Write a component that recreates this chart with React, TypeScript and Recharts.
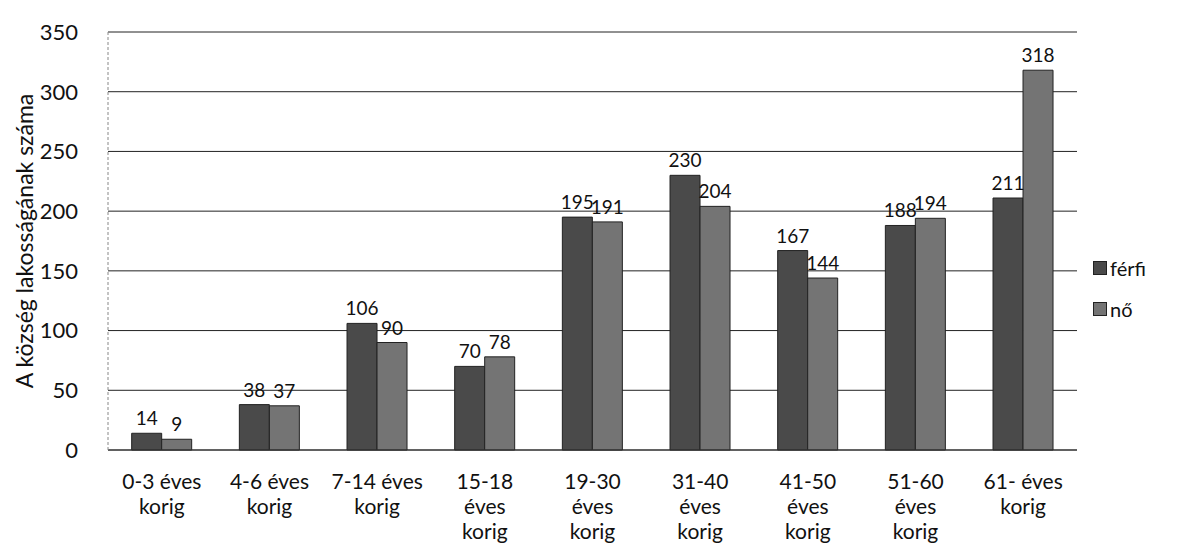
import React from "react";
import { BarChart, Bar, XAxis, YAxis, CartesianGrid, LabelList } from "recharts";

const categories = [
  "0-3 éves\nkorig",
  "4-6 éves\nkorig",
  "7-14 éves\nkorig",
  "15-18\néves\nkorig",
  "19-30\néves\nkorig",
  "31-40\néves\nkorig",
  "41-50\néves\nkorig",
  "51-60\néves\nkorig",
  "61- éves\nkorig",
];
const ferfi = [14, 38, 106, 70, 195, 230, 167, 188, 211];
const no = [9, 37, 90, 78, 191, 204, 144, 194, 318];
const yTicks = [0, 50, 100, 150, 200, 250, 300, 350];

const data = categories.map((c, i) => ({ cat: c, ferfi: ferfi[i], no: no[i] }));

const FONT = "Lato, 'Liberation Sans', sans-serif";
const C_FERFI = "#4a4a4a";
const C_NO = "#747474";

const XTick = (props: any) => {
  const { x, y, payload } = props;
  const lines = String(payload.value).split("\n");
  return (
    <g transform={`translate(${x},${y})`}>
      {lines.map((l: string, i: number) => (
        <text key={i} x={0} y={31 + i * 25} textAnchor="middle" fill="#111" fontSize={21} fontFamily={FONT}>
          {l}
        </text>
      ))}
    </g>
  );
};

export default function App() {
  return (
    <div style={{ position: "relative", width: 1169, height: 536, background: "#fff" }}>
      <BarChart
        width={1169}
        height={536}
        data={data}
        margin={{ top: 24, right: 100, bottom: 0, left: 40 }}
        barCategoryGap="22%"
        barGap={0}
      >
        <CartesianGrid vertical={false} stroke="#222" strokeWidth={1} />
        <XAxis
          dataKey="cat"
          interval={0}
          tick={<XTick />}
          tickLine={false}
          axisLine={{ stroke: "#333" }}
          height={94}
        />
        <YAxis
          domain={[0, 350]}
          ticks={yTicks}
          width={60}
          tickLine={false}
          axisLine={{ stroke: "#888", strokeDasharray: "3 2" }}
          tick={{ fill: "#111", fontSize: 22, fontFamily: FONT }}
          tickMargin={24}
          label={{
            value: "A község lakosságának száma",
            angle: -90,
            position: "insideLeft",
            dx: -28,
            dy: 0,
            style: { textAnchor: "middle", fill: "#111", fontSize: 23, fontFamily: FONT },
          }}
        />
        <Bar dataKey="ferfi" fill={C_FERFI} stroke="#222" strokeWidth={1} isAnimationActive={false}>
          <LabelList dataKey="ferfi" position="top" offset={8} fill="#111" fontSize={19} fontFamily={FONT} />
        </Bar>
        <Bar dataKey="no" fill={C_NO} stroke="#222" strokeWidth={1} isAnimationActive={false}>
          <LabelList dataKey="no" position="top" offset={8} fill="#111" fontSize={19} fontFamily={FONT} />
        </Bar>
      </BarChart>
      <div style={{ position: "absolute", left: 1085, top: 248, fontFamily: FONT, fontSize: 20, color: "#111" }}>
        <div style={{ display: "flex", alignItems: "center", height: 24 }}>
          <span style={{ display: "inline-block", width: 12, height: 12, background: C_FERFI, border: "1px solid #222", marginRight: 3 }} />
          férfi
        </div>
        <div style={{ display: "flex", alignItems: "center", height: 24, marginTop: 17 }}>
          <span style={{ display: "inline-block", width: 12, height: 12, background: C_NO, border: "1px solid #222", marginRight: 3 }} />
          nő
        </div>
      </div>
    </div>
  );
}
